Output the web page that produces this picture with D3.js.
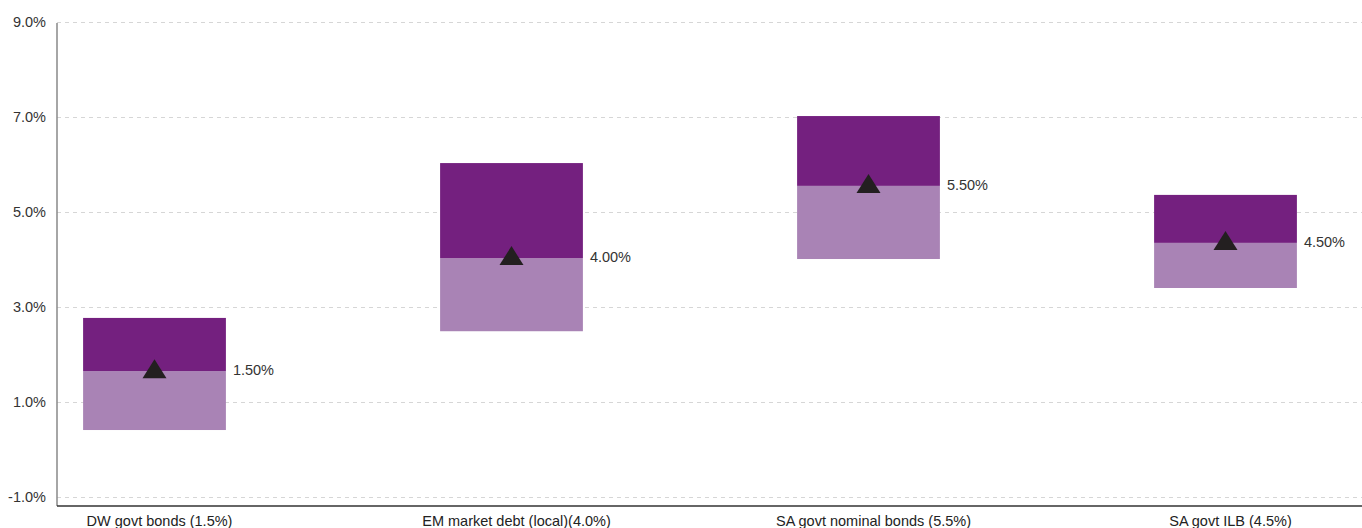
<!DOCTYPE html>
<html>
<head>
<meta charset="utf-8">
<script src="https://cdn.jsdelivr.net/npm/d3@7"></script>
<style>
  body { margin: 0; background: #fff; }
  svg { display: block; font-family: "Liberation Sans", Arial, sans-serif; }
</style>
</head>
<body>
<div id="chart"></div>
<script>
// data
var categories = ["DW govt bonds (1.5%)", "EM market debt (local)(4.0%)", "SA govt nominal bonds (5.5%)", "SA govt ILB (4.5%)"];
var lowValues = [0.41, 2.49, 4.01, 3.40];
var midValues = [1.65, 4.03, 5.55, 4.35];
var highValues = [2.77, 6.03, 7.02, 5.36];
var pointLabels = ["1.50%", "4.00%", "5.50%", "4.50%"];
var yTicks = [-1, 1, 3, 5, 7, 9];
var yTickLabels = ["-1.0%", "1.0%", "3.0%", "5.0%", "7.0%", "9.0%"];

var width = 1362, height = 528;
var plotLeft = 57, plotTop = 22, plotBottom = 506;

var svg = d3.select("#chart").append("svg")
    .attr("width", width)
    .attr("height", height);

var y = d3.scaleLinear().domain([-1.2, 9]).range([plotBottom + 0.5, plotTop]);
var step = 357;
var x = d3.scaleBand()
    .domain(categories)
    .range([154.5 - step / 2, 154.5 - step / 2 + step * categories.length])
    .paddingInner(0.6)
    .paddingOuter(0.3);

var data = categories.map(function(c, i) {
  return { cat: c, low: lowValues[i], mid: midValues[i], high: highValues[i], label: pointLabels[i] };
});

// gridlines
svg.append("g").selectAll("line")
  .data(yTicks)
  .enter().append("line")
    .attr("x1", plotLeft)
    .attr("x2", width)
    .attr("y1", function(d) { return Math.round(y(d)) + 0.5; })
    .attr("y2", function(d) { return Math.round(y(d)) + 0.5; })
    .attr("stroke", "#d6d6d6")
    .attr("stroke-dasharray", "4,4");

// y axis
var yAxis = svg.append("g")
    .attr("transform", "translate(" + plotLeft + ",0)")
    .call(d3.axisLeft(y).tickValues(yTicks).tickSize(0).tickPadding(11)
      .tickFormat(function(d, i) { return yTickLabels[i]; }));
yAxis.select(".domain").remove();
yAxis.selectAll("text")
    .style("font-size", "14.5px")
    .style("fill", "#333");
svg.append("line")
    .attr("x1", plotLeft).attr("x2", plotLeft)
    .attr("y1", y(9) + 1).attr("y2", plotBottom)
    .attr("stroke", "#888")
    .attr("stroke-width", 1.5);

// bars: lower part (light) and upper part (dark)
var groups = svg.append("g").selectAll("g")
  .data(data)
  .enter().append("g");

groups.append("rect")
    .attr("x", function(d) { return x(d.cat); })
    .attr("width", x.bandwidth())
    .attr("y", function(d) { return y(d.mid); })
    .attr("height", function(d) { return y(d.low) - y(d.mid); })
    .attr("fill", "#a983b5");

groups.append("rect")
    .attr("x", function(d) { return x(d.cat); })
    .attr("width", x.bandwidth())
    .attr("y", function(d) { return y(d.high); })
    .attr("height", function(d) { return y(d.mid) - y(d.high); })
    .attr("fill", "#74207f");

// triangle markers sitting on the split line
groups.append("path")
    .attr("d", function(d) {
      var cx = x(d.cat) + x.bandwidth() / 2, cy = y(d.mid);
      return "M" + (cx - 12) + "," + (cy + 7) + "L" + (cx + 12) + "," + (cy + 7) + "L" + cx + "," + (cy - 12) + "Z";
    })
    .attr("fill", "#231f20");

groups.append("text")
    .attr("x", function(d) { return x(d.cat) + x.bandwidth() + 7; })
    .attr("y", function(d) { return y(d.mid) - 1; })
    .attr("dy", "0.35em")
    .style("font-size", "14.5px")
    .style("fill", "#333")
    .text(function(d) { return d.label; });

// x axis
svg.append("line")
    .attr("x1", plotLeft).attr("x2", width)
    .attr("y1", plotBottom).attr("y2", plotBottom)
    .attr("stroke", "#333")
    .attr("stroke-width", 1.5);

svg.append("g").selectAll("text")
  .data(categories)
  .enter().append("text")
    .attr("x", function(d) { return x(d) + x.bandwidth() / 2 + 5; })
    .attr("y", 526)
    .attr("text-anchor", "middle")
    .style("font-size", "14.5px")
    .style("fill", "#222")
    .text(function(d) { return d; });
</script>
</body>
</html>
